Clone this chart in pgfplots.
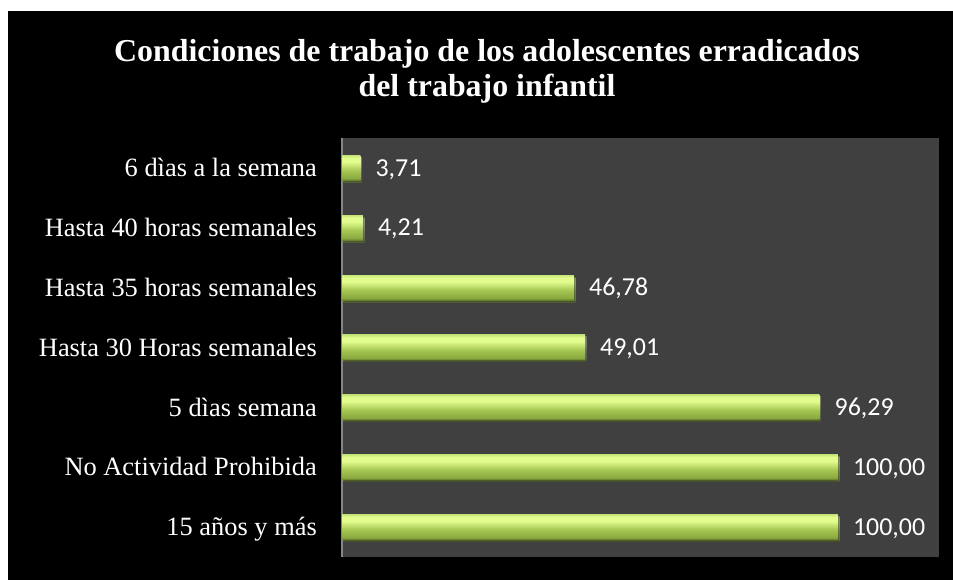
\documentclass[border=0pt]{standalone}
\usepackage{pgfplots}
\pgfplotsset{compat=1.18}
\usepackage{fontspec}
\setmainfont{Liberation Serif}
\newfontfamily\calibri{Carlito}

\definecolor{plotgray}{HTML}{404040}
\definecolor{axisgray}{HTML}{868686}
\definecolor{gDark}{HTML}{637C2C}
\definecolor{gLow}{HTML}{8AA940}
\definecolor{gMid}{HTML}{A6C752}
\definecolor{gHigh}{HTML}{E2FC8E}
\definecolor{gTop}{HTML}{C8E67A}

% bevelled green bars: dark at the bottom, bright band near the top
\pgfdeclareverticalshading{barshade}{100bp}{%
  color(0bp)=(gDark); color(25bp)=(gDark); color(29bp)=(gLow);
  color(45bp)=(gMid); color(62bp)=(gHigh); color(70bp)=(gHigh);
  color(75bp)=(gTop); color(100bp)=(gTop)}

\pgfplotsset{greenbar/.style={draw=none, shading=barshade, bar shift=0pt,
    preaction={fill=black, fill opacity=0.45,
      transform canvas={xshift=1.5bp, yshift=-2bp}}}}

\begin{document}
\begin{tikzpicture}
\useasboundingbox (0,0) rectangle (953bp,580bp);
\fill[white] (0,0) rectangle (953bp,580bp);
\fill[black] (8bp,0) rectangle (953bp,569bp);

\node[anchor=north, align=center, inner sep=0pt, text=white,
      font=\fontsize{32}{35}\selectfont\bfseries]
  at (487bp,541bp)
  {Condiciones de trabajo de los adolescentes erradicados\\del trabajo infantil};

\begin{axis}[
    at={(342bp,23bp)}, anchor=south west,
    scale only axis,
    width=597bp, height=419bp,
    xbar, bar width=25bp,
    xmin=0, xmax=120.4,
    ymin=-0.5, ymax=6.5,
    axis x line=none,
    axis y line*=left,
    y axis line style={draw=axisgray, line width=2bp},
    axis background/.style={fill=plotgray},
    xtick=\empty,
    ytick={0,1,2,3,4,5,6},
    yticklabels={15 años y más, No Actividad Prohibida, 5 dìas semana,
      Hasta 30 Horas semanales, Hasta 35 horas semanales,
      Hasta 40 horas semanales, 6 dìas a la semana},
    major tick length=0pt,
    yticklabel style={text=white, anchor=east, inner sep=0pt, xshift=-25bp,
      font=\fontsize{26.5}{30}\selectfont, text height=17.5bp, text depth=0pt},
    point meta=x,
    nodes near coords,
    nodes near coords align=horizontal,
    every node near coord/.append style={text=white, anchor=west,
      inner sep=0pt, xshift=15bp, font=\calibri\fontsize{26}{30}\selectfont,
      text height=16.4bp, text depth=0pt},
    /pgf/number format/.cd, fixed, fixed zerofill, precision=2, use comma,
      assume math mode=true,
]
% one plot per bar so that each bar gets its own shading
\addplot[greenbar] coordinates {(100,0)};
\addplot[greenbar] coordinates {(100,1)};
\addplot[greenbar] coordinates {(96.29,2)};
\addplot[greenbar] coordinates {(49.01,3)};
\addplot[greenbar] coordinates {(46.78,4)};
\addplot[greenbar] coordinates {(4.21,5)};
\addplot[greenbar] coordinates {(3.71,6)};
\end{axis}
\end{tikzpicture}
\end{document}
